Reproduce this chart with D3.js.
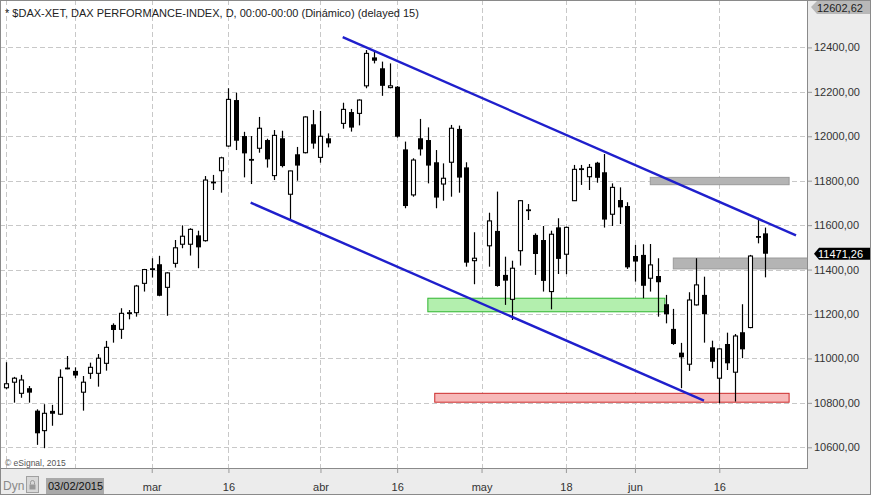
<!DOCTYPE html>
<html>
<head>
<meta charset="utf-8">
<script src="https://cdn.jsdelivr.net/npm/d3@7/dist/d3.min.js"></script>
<style>
  body { margin: 0; background: #fff; }
  svg text { font-family: "Liberation Sans", Arial, sans-serif; }
</style>
</head>
<body>
<svg id="chart" width="871" height="495"></svg>
<script>
(function(){
  ////////////////////////// DATA //////////////////////////////
  // one slot per trading day from 03/02/2015, null = holiday gap
  var open  = [10868,10893,10843,10866,10765,10675,10764,10749,10959,10944,
               10848,10933,10933,10978,11151,11131,11208,11206,11338,11406,
               11424,11320,11428,11514,11514,11554,11530,11796,11845,11956,
               12163,12001,11898,11946,11983,11823,11991,11739,11919,11926,
               12054,11905,11991,null,12058,12109,12103,12227,12355,12306,
               12219,12223,11941,11736,11991,11983,11883,11785,11883,12033,
               11860,11440,null,11507,11574,11376,11266,11485,11671,11556,
               11533,11301,11590,11469,11710,11856,11818,11881,11838,11649,
               11713,11686,11461,11466,11361,11371,11244,11133,11026,10974,
               11241,11286,11050,10911,11065,10938,11118,11139,11551,11563]
  var high  = [10983,10917,10926,10876,10771,10794,10791,10951,11011,10960,
               10921,10981,11020,11079,11158,11226,11218,11331,11403,11451,
               11462,11388,11533,11599,11586,11575,11821,11826,11908,12216,
               12196,12020,12001,12087,11989,12028,12025,11845,11952,12090,
               12118,12114,12013,null,12151,12123,12166,12388,12380,12336,
               12328,12226,11976,11901,12078,12040,11938,11878,12051,12048,
               11883,11568,null,11656,11751,11458,11440,11713,11695,11563,
               11596,11575,11631,11593,11871,11871,11875,11885,11920,11788,
               11770,11703,11511,11514,11515,11451,11286,11223,11070,11298,
               11451,11368,11080,11046,11116,11110,11244,11466,11633,11589]
  var low   = [10861,10801,10823,10801,10611,10596,10697,10745,10951,10911,
               10765,10908,10873,10945,11071,11088,11176,11188,11301,11364,
               11280,11192,11409,11496,11463,11406,11526,11758,11746,11953,
               11938,11815,11785,11926,11859,11803,11860,11623,11800,11923,
               11944,11881,11950,null,12034,12021,12049,12216,12328,12182,
               12216,11994,11676,11728,11913,11788,11676,11710,11728,11746,
               11413,11334,null,11413,11323,11241,11173,11418,11623,11376,
               11301,11221,11380,11379,11709,11781,11758,11791,11589,11596,
               11605,11403,11346,11271,11301,11188,11158,11061,10866,10944,
               11238,11071,10956,10798,10948,10806,11001,11136,11518,11365]
  var close = [10886,10911,10903,10846,10663,10753,10751,10915,10953,10923,
               10893,10960,11001,11050,11128,11203,11202,11326,11400,11401,
               11282,11385,11498,11550,11581,11500,11803,11793,11903,12166,
               11980,11923,11893,12036,11896,12004,11866,11844,11868,12087,
               11967,12000,11968,null,12121,12039,12163,12373,12340,12227,
               12227,11998,11686,11893,11941,11868,11724,11811,12036,11814,
               11431,11451,null,11619,11326,11350,11406,11710,11667,11470,
               11349,11559,11448,11590,11851,11851,11860,11813,11625,11770,
               11680,11410,11436,11327,11421,11343,11199,11065,11005,11263,
               11331,11199,10985,11043,10978,11101,11041,11461,11545,11471.26]

  var yTicks = [10600, 10800, 11000, 11200, 11400, 11600, 11800, 12000, 12200, 12400]
  var gridSlots = [0, 9, 19, 29, 41, 51, 62, 73, 82, 93]
  var tickSlots = [19, 29, 41, 51, 62, 73, 82, 93]
  var tickLabels = ['mar', '16', 'abr', '16', 'may', '18', 'jun', '16']

  var topValue = 12602.62
  var lastValue = 11471.26

  // drawn trend channel, [slot, price]
  var upperLine = [[43.9, 12446], [103.0, 11554]]
  var lowerLine = [[31.9, 11701], [91.0, 10810]]

  // support / resistance zones: slot from, slot to, price top, price bottom
  var zoneGrayTop = [84.0, 102.1, 11815, 11782]
  var zoneGrayMid = [87.0, 106, 11452, 11403]
  var zoneGreen   = [55.0, 85.9, 11271, 11210]
  var zoneRed     = [55.9, 102.1, 10843, 10803]

  ////////////////////////// LAYOUT ////////////////////////////
  var W = 871, H = 495
  var plotR = 807, plotB = 468

  var x = d3.scaleLinear().domain([0, 99]).range([6, 6 + 99 * 7.67])
  var y = d3.scaleLinear().domain([10600, 12400]).range([447.3, 47.4])

  var fmt = d3.formatLocale({decimal: ',', thousands: '', grouping: [3], currency: ['', '']}).format('.2f')

  var svg = d3.select('#chart')

  svg.append('rect').attr('width', W).attr('height', H).attr('fill', '#ececec')
  svg.append('rect').attr('x', 0).attr('y', 0).attr('width', plotR).attr('height', plotB).attr('fill', '#fff')

  svg.append('defs').append('clipPath').attr('id', 'plotclip')
    .append('rect').attr('x', 0).attr('y', 0).attr('width', plotR).attr('height', plotB)

  var plot = svg.append('g').attr('clip-path', 'url(#plotclip)')

  // grid
  plot.append('g').selectAll('line').data(yTicks).enter().append('line')
    .attr('x1', 0).attr('x2', plotR)
    .attr('y1', function(d){ return Math.round(y(d)) + 0.5 })
    .attr('y2', function(d){ return Math.round(y(d)) + 0.5 })
    .attr('stroke', '#c8c8c8').attr('stroke-dasharray', '5,3')

  plot.append('g').selectAll('line').data(gridSlots).enter().append('line')
    .attr('x1', function(d){ return Math.round(x(d)) + 0.5 })
    .attr('x2', function(d){ return Math.round(x(d)) + 0.5 })
    .attr('y1', 0).attr('y2', plotB)
    .attr('stroke', '#c8c8c8').attr('stroke-dasharray', '5,3')

  // zones
  function zone(z, fill, stroke){
    plot.append('rect')
      .attr('x', x(z[0])).attr('width', x(z[1]) - x(z[0]))
      .attr('y', y(z[2])).attr('height', y(z[3]) - y(z[2]))
      .attr('fill', fill).attr('stroke', stroke).attr('stroke-width', 1)
  }
  zone(zoneGrayTop, '#b4b4b4', '#9a9a9a')
  zone(zoneGrayMid, '#b4b4b4', '#9a9a9a')
  zone(zoneGreen, '#b3efae', '#2fb52f')
  zone(zoneRed, '#f7b9b9', '#cc2b2b')

  // candles
  var candles = []
  for(var i = 0; i < open.length; i++){
    if(open[i] === null) continue
    candles.push({i: i, o: open[i], h: high[i], l: low[i], c: close[i]})
  }

  var cg = plot.append('g').selectAll('g').data(candles).enter().append('g')

  cg.append('line')
    .attr('x1', function(d){ return Math.round(x(d.i)) + 0.5 })
    .attr('x2', function(d){ return Math.round(x(d.i)) + 0.5 })
    .attr('y1', function(d){ return y(d.h) })
    .attr('y2', function(d){ return y(d.l) })
    .attr('stroke', '#000').attr('stroke-width', 1.2)

  cg.append('rect')
    .attr('x', function(d){ return Math.round(x(d.i)) + 0.5 - (d.c < d.o ? 2.5 : 2) })
    .attr('width', function(d){ return d.c < d.o ? 5 : 4 })
    .attr('y', function(d){ return y(Math.max(d.o, d.c)) })
    .attr('height', function(d){ return Math.max(Math.abs(y(d.o) - y(d.c)), d.c < d.o ? 1.8 : 1.5) })
    .attr('fill', function(d){ return d.c < d.o ? '#000' : '#fff' })
    .attr('stroke', function(d){ return d.c < d.o ? 'none' : '#000' })
    .attr('stroke-width', 1.1)

  // trend channel
  var line = d3.line()
    .x(function(d){ return x(d[0]) })
    .y(function(d){ return y(d[1]) })
  ;[upperLine, lowerLine].forEach(function(l){
    plot.append('path').attr('d', line(l))
      .attr('fill', 'none').attr('stroke', '#1f1fcc').attr('stroke-width', 2.4)
  })

  // frame
  svg.append('line').attr('x1', plotR + 0.5).attr('x2', plotR + 0.5).attr('y1', 0).attr('y2', plotB)
    .attr('stroke', '#8a8a8a')
  svg.append('line').attr('x1', 0).attr('x2', plotR + 1).attr('y1', plotB + 0.5).attr('y2', plotB + 0.5)
    .attr('stroke', '#8a8a8a')
  svg.append('rect').attr('x', 0.5).attr('y', 0.5).attr('width', W - 1).attr('height', H - 1)
    .attr('fill', 'none').attr('stroke', '#8a8a8a')

  ////////////////////////// AXES //////////////////////////////
  var yAxis = svg.append('g').attr('transform', 'translate(' + (plotR + 1) + ',0)')
    .call(d3.axisRight(y).tickValues(yTicks).tickFormat(fmt).tickSize(4).tickPadding(2))
  yAxis.select('.domain').remove()
  yAxis.selectAll('line').attr('stroke', '#999')
  yAxis.selectAll('text').attr('fill', '#333').attr('font-size', 11)
    .attr('font-family', '"Liberation Sans", Arial, sans-serif')

  var xAxis = svg.append('g').attr('transform', 'translate(0,' + plotB + ')')
    .call(d3.axisBottom(x).tickValues(tickSlots)
      .tickFormat(function(d, i){ return tickLabels[i] }).tickSize(5).tickPadding(10))
  xAxis.select('.domain').remove()
  xAxis.selectAll('line').attr('stroke', '#999')
  xAxis.selectAll('text').attr('fill', '#333').attr('font-size', 11)
    .attr('font-family', '"Liberation Sans", Arial, sans-serif')

  // price markers
  svg.append('path')
    .attr('d', 'M811,7 L817,1 L870,1 L870,14 L817,14 Z')
    .attr('fill', '#b8b8b8')
  svg.append('text').attr('x', 817).attr('y', 11.5).text(fmt(topValue))
    .attr('font-size', 11).attr('fill', '#222')

  var yl = y(lastValue)
  svg.append('path')
    .attr('d', 'M814,' + yl + ' L819,' + (yl - 6) + ' L870,' + (yl - 6) + ' L870,' + (yl + 6) + ' L819,' + (yl + 6) + ' Z')
    .attr('fill', '#000')
  svg.append('text').attr('x', 818).attr('y', yl + 4).text(fmt(lastValue))
    .attr('font-size', 11).attr('fill', '#fff')

  ////////////////////////// TEXTS /////////////////////////////
  svg.append('text').attr('x', 5).attr('y', 17)
    .text('* $DAX-XET, DAX PERFORMANCE-INDEX, D, 00:00-00:00 (Dinámico) (delayed 15)')
    .attr('font-size', 11).attr('fill', '#222')

  svg.append('text').attr('x', 5).attr('y', 466)
    .text('© eSignal, 2015').attr('font-size', 8.5).attr('fill', '#555')

  svg.append('text').attr('x', 3).attr('y', 490).text('Dyn')
    .attr('font-size', 12).attr('fill', '#8a8a8a')
  svg.append('rect').attr('x', 26.5).attr('y', 476.5).attr('width', 12).attr('height', 16)
    .attr('fill', '#d8d8d8').attr('stroke', '#a0a0a0')
  svg.append('rect').attr('x', 29.5).attr('y', 484.5).attr('width', 6).attr('height', 5)
    .attr('fill', '#999')
  svg.append('path').attr('d', 'M30.5,484.5 v-2 a2,2 0 0 1 4,0 v2')
    .attr('fill', 'none').attr('stroke', '#999')
  svg.append('rect').attr('x', 46).attr('y', 478).attr('width', 58).attr('height', 16)
    .attr('fill', '#a9a9a9')
  svg.append('text').attr('x', 48).attr('y', 490).text('03/02/2015')
    .attr('font-size', 11).attr('fill', '#111')
})()
</script>
</body>
</html>
